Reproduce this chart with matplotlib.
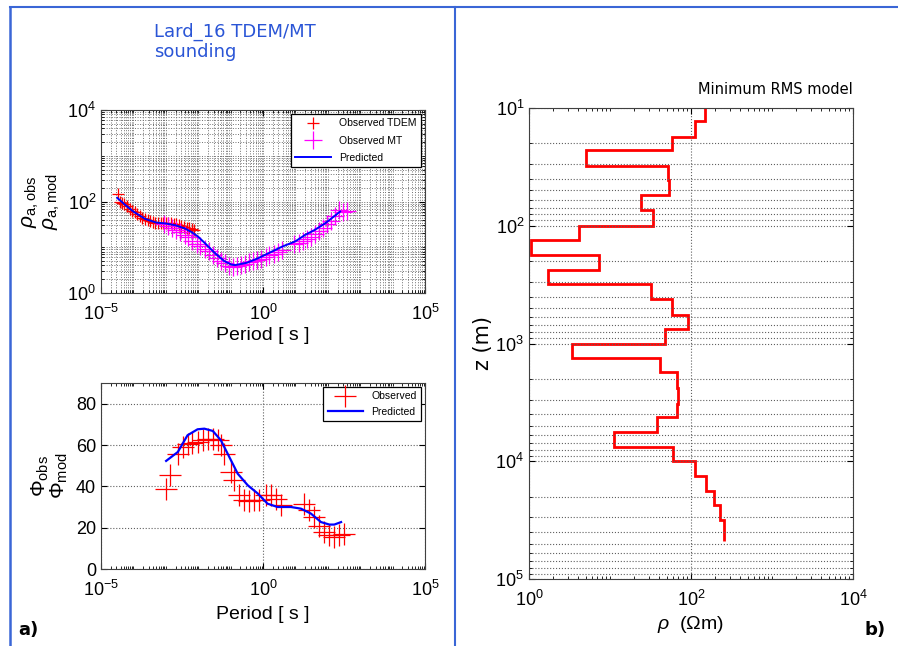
import numpy as np
import matplotlib
matplotlib.use('Agg')
import matplotlib.pyplot as plt
from matplotlib.ticker import LogLocator, NullFormatter

plt.rcParams['font.family'] = ['Liberation Sans', 'DejaVu Sans']
plt.rcParams['mathtext.fontset'] = 'custom'
plt.rcParams['mathtext.rm'] = 'Liberation Sans'
plt.rcParams['mathtext.it'] = 'Liberation Sans:italic'

# apparent resistivity - observed TDEM (log10 period, log10 rho)
tdem_logT = [-4.49, -4.42, -4.35, -4.28, -4.20, -4.12, -4.04, -3.96, -3.88, -3.80,
             -3.72, -3.64, -3.56, -3.48, -3.40, -3.32, -3.24, -3.16, -3.08, -3.00,
             -2.92, -2.84, -2.76, -2.68, -2.60, -2.52, -2.44, -2.36, -2.28, -2.20, -2.12]
tdem_logR = [2.16, 1.99, 1.96, 1.95, 1.90, 1.84, 1.80, 1.76, 1.72, 1.68,
             1.65, 1.62, 1.59, 1.57, 1.55, 1.54, 1.53, 1.53, 1.53, 1.53,
             1.52, 1.52, 1.51, 1.50, 1.49, 1.47, 1.45, 1.43, 1.41, 1.39, 1.37]

# apparent resistivity - observed MT
mt_logT = [-3.05, -2.92, -2.80, -2.68, -2.55, -2.42, -2.30, -2.18, -2.05, -1.93,
           -1.80, -1.68, -1.55, -1.43, -1.30, -1.18, -1.05, -0.93, -0.80, -0.68,
           -0.55, -0.43, -0.30, -0.18, -0.05, 0.08, 0.20, 0.33, 0.45, 0.58,
           0.95, 1.10, 1.22, 1.35, 1.48, 1.60, 1.72, 1.85, 1.98, 2.10,
           2.22, 2.35, 2.48, 2.58]
mt_logR = [1.50, 1.46, 1.42, 1.38, 1.33, 1.27, 1.22, 1.14, 1.08, 1.02,
           0.97, 0.91, 0.84, 0.77, 0.71, 0.66, 0.58, 0.56, 0.60, 0.62,
           0.64, 0.68, 0.70, 0.72, 0.74, 0.78, 0.82, 0.86, 0.90, 0.94,
           1.08, 1.10, 1.14, 1.17, 1.22, 1.28, 1.36, 1.42, 1.50, 1.58,
           1.68, 1.82, 1.76, 1.80]

# predicted apparent resistivity
pred_logT = [-4.50, -4.26, -4.00, -3.64, -3.30, -3.00, -2.70, -2.41, -2.20, -2.00,
             -1.75, -1.48, -1.20, -0.97, -0.86, -0.50, -0.15, 0.20, 0.58, 1.00,
             1.30, 1.60, 1.91, 2.15, 2.38]
pred_logR = [2.08, 1.93, 1.78, 1.62, 1.54, 1.52, 1.48, 1.41, 1.33, 1.23,
             1.06, 0.87, 0.70, 0.62, 0.61, 0.66, 0.76, 0.88, 1.01, 1.13,
             1.27, 1.38, 1.52, 1.65, 1.78]

# phase - observed
ph_logT = [-2.99, -2.86, -2.63, -2.48, -2.33, -2.18, -2.02, -1.86, -1.71, -1.55,
           -1.40, -1.30, -1.19, -0.99, -0.88, -0.73, -0.58, -0.42, -0.27, -0.12,
           0.09, 0.25, 0.40, 0.56, 1.28, 1.43, 1.58, 1.74, 1.89, 2.05, 2.20, 2.36, 2.51]
ph_obs = [38.5, 45.3, 55.8, 59.0, 60.3, 60.8, 61.5, 62.3, 62.7, 63.0,
          62.3, 59.8, 55.8, 47.0, 43.0, 35.6, 33.2, 32.7, 33.2, 33.2,
          36.0, 35.6, 34.0, 30.8, 31.6, 28.4, 25.2, 21.0, 17.9, 16.3, 15.5, 16.3, 17.0]

# phase - predicted
php_logT = [-2.99, -2.63, -2.33, -2.02, -1.81, -1.55, -1.30, -1.04, -0.78, -0.47,
            -0.16, 0.14, 0.45, 0.86, 1.17, 1.48, 1.79, 2.05, 2.20, 2.41]
php = [52.3, 56.6, 64.7, 67.6, 67.9, 66.8, 62.3, 54.2, 46.1, 40.5,
       36.5, 31.6, 30.0, 30.0, 29.2, 26.8, 22.7, 21.5, 21.5, 22.7]

# minimum RMS layered model: layer top depths (m) and resistivities (ohm m)
layer_tops = [10, 13, 17.7, 22.9, 31, 41, 55, 74, 100, 132, 178, 239, 313, 422, 576,
              750, 1000, 1340, 1750, 2380, 3240, 4180, 5600, 7500, 9900, 13300,
              17800, 23500, 31600, 47300]
layer_rho = [148, 112, 59, 5.0, 52, 54, 24, 34, 4.1, 1.06, 7.4, 1.7, 32, 59, 91,
             48, 3.4, 41.5, 68, 70, 68, 38, 11.2, 60, 112, 154, 192, 228, 256]

fig = plt.figure(figsize=(8.98, 6.46), dpi=100)

frame_col = '#3a66d6'
fig.add_artist(plt.Line2D([10/898, 1], [1-7/646, 1-7/646], color=frame_col, lw=1.5))
fig.add_artist(plt.Line2D([10/898, 10/898], [0, 1-7/646], color=frame_col, lw=1.8))
fig.add_artist(plt.Line2D([455/898, 455/898], [0, 1-7/646], color=frame_col, lw=1.5))

fig.text(154/898, 1-23/646, 'Lard_16 TDEM/MT\nsounding', color='#2a55d6',
         family='DejaVu Sans', fontsize=13, va='top', ha='left', linespacing=1.15)


def style(ax):
    ax.tick_params(which='both', direction='in', top=True, right=True, labelsize=13)
    ax.tick_params(axis='x', which='both', pad=8)
    ax.tick_params(which='major', length=4)
    ax.tick_params(which='minor', length=2)
    for s in ax.spines.values():
        s.set_color('#404040')


# ---- apparent resistivity ----
ax1 = fig.add_axes([101/898, 1-293/646, 324/898, 183/646])
ax1.loglog(10**np.array(tdem_logT), 10**np.array(tdem_logR), '+', color='red',
           ms=8, mew=0.9, label='Observed TDEM')
ax1.loglog(10**np.array(mt_logT), 10**np.array(mt_logR), '+', color='magenta',
           ms=13, mew=0.9, label='Observed MT')
ax1.loglog(10**np.array(pred_logT), 10**np.array(pred_logR), '-', color='blue',
           lw=1.4, label='Predicted')
ax1.set_xlim(1e-5, 1e5)
ax1.set_ylim(1, 1e4)
ax1.set_xticks([1e-5, 1, 1e5])
ax1.set_yticks([1, 1e2, 1e4])
ax1.xaxis.set_minor_locator(LogLocator(base=10, subs=np.arange(1, 10), numticks=100))
ax1.yaxis.set_minor_locator(LogLocator(base=10, subs=np.arange(1, 10), numticks=100))
ax1.xaxis.set_minor_formatter(NullFormatter())
ax1.yaxis.set_minor_formatter(NullFormatter())
ax1.grid(which='both', ls=':', color='#707070', lw=0.7)
style(ax1)
ax1.set_xlabel('Period [ s ]', fontsize=14, labelpad=2)
ax1.set_ylabel(r'$\rho_{\mathrm{a,obs}}$' + '\n' + r'$\rho_{\mathrm{a,mod}}$',
               fontsize=15, labelpad=4, linespacing=0.9)
leg1 = ax1.legend(loc='upper right', fontsize=7.5, frameon=True, fancybox=False,
                  edgecolor='black', framealpha=1, borderaxespad=0.4, handlelength=3.4,
                  labelspacing=0.7)
leg1.get_frame().set_linewidth(0.9)

# ---- phase ----
ax2 = fig.add_axes([101/898, 1-569/646, 324/898, 186/646])
ax2.semilogx(10**np.array(ph_logT), ph_obs, '+', color='red', ms=16, mew=0.9,
             label='Observed')
ax2.semilogx(10**np.array(php_logT), php, '-', color='blue', lw=1.6, label='Predicted')
ax2.set_xlim(1e-5, 1e5)
ax2.set_ylim(0, 90)
ax2.set_xticks([1e-5, 1, 1e5])
ax2.set_yticks([0, 20, 40, 60, 80])
ax2.xaxis.set_minor_locator(LogLocator(base=10, subs=np.arange(1, 10), numticks=100))
ax2.xaxis.set_minor_formatter(NullFormatter())
ax2.grid(which='major', ls=':', color='#606060', lw=0.8)
style(ax2)
ax2.set_xlabel('Period [ s ]', fontsize=14, labelpad=4)
ax2.set_ylabel(r'$\Phi_{\mathrm{obs}}$' + '\n' + r'$\Phi_{\mathrm{mod}}$',
               fontsize=15, labelpad=4, linespacing=0.9)
leg2 = ax2.legend(loc='upper right', fontsize=7.5, frameon=True, fancybox=False,
                  edgecolor='black', framealpha=1, borderaxespad=0.4, handlelength=3.4)
leg2.get_frame().set_linewidth(0.9)

# ---- layered model ----
ax3 = fig.add_axes([529/898, 1-579/646, 324/898, 471/646])
ax3.stairs(layer_rho, layer_tops, orientation='horizontal', baseline=None,
           color='red', lw=2)
ax3.set_xscale('log')
ax3.set_yscale('log')
ax3.set_xlim(1, 1e4)
ax3.set_ylim(1e5, 10)
ax3.set_xticks([1, 1e2, 1e4])
ax3.set_yticks([10, 1e2, 1e3, 1e4, 1e5])
ax3.yaxis.set_minor_locator(LogLocator(base=10, subs=np.arange(1, 10), numticks=100))
ax3.xaxis.set_minor_locator(LogLocator(base=10, subs=np.arange(1, 10), numticks=100))
ax3.xaxis.set_minor_formatter(NullFormatter())
ax3.yaxis.set_minor_formatter(NullFormatter())
ax3.grid(axis='x', which='major', ls=':', color='#606060', lw=0.8)
ax3.grid(axis='y', which='both', ls=':', color='#606060', lw=0.8)
style(ax3)
ax3.set_xlabel(r'$\rho$  ($\Omega$m)', fontsize=14, labelpad=3)
ax3.set_ylabel('z (m)', fontsize=15, labelpad=2, family='DejaVu Sans')
ax3.set_title('Minimum RMS model', loc='right', fontsize=10.5, family='DejaVu Sans', pad=10)

fig.text(18/898, 1-630/646, 'a)', fontsize=13, fontweight='bold', family='DejaVu Sans',
         va='center', ha='left')
fig.text(865/898, 1-630/646, 'b)', fontsize=13, fontweight='bold', family='DejaVu Sans',
         va='center', ha='left')

fig.savefig('out.png', dpi=100)
